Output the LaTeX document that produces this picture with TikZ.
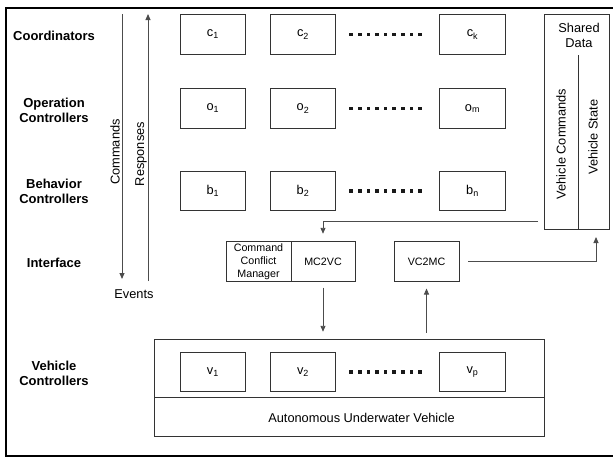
\documentclass[tikz,border=0pt]{standalone}
\usepackage{fontspec}
\setmainfont{Liberation Sans}
\usetikzlibrary{arrows.meta}
\begin{document}
\begin{tikzpicture}[x=1pt,y=-1pt,
  boxcol/.style={draw=black!80,line width=0.9pt},
  comp/.style={boxcol,minimum width=65.7pt,minimum height=39.5pt,inner sep=0pt,font=\fontsize{12.8}{15}\selectfont},
  layer/.style={font=\fontsize{13}{15}\selectfont\bfseries,align=center},
  txt/.style={font=\fontsize{12.8}{15}\selectfont,align=center,inner sep=0pt},
  small/.style={font=\fontsize{10.7}{13}\selectfont,align=center,inner sep=0pt},
  arr/.style={draw=black!70,line width=0.9pt,-{Triangle[length=6pt,width=5pt]}},
  plain/.style={draw=black!70,line width=0.9pt},
  dotsq/.style={fill=black!90}]
\useasboundingbox (0,0) rectangle (613,458);
\draw[line width=2.2pt] (6,8) rectangle (614,456);

% layer labels
\node[layer] (lc) at (54,36) {Coordinators};
\node[layer] (lo) at (54,110) {Operation\\Controllers};
\node[layer] (lb) at (54,191) {Behavior\\Controllers};
\node[layer] (li) at (54,263) {Interface};
\node[layer] (lv) at (54,373) {Vehicle\\Controllers};

% components
\node[comp] (c1) at (212.9,34.5) {c\textsubscript{1}};
\node[comp] (c2) at (303,34.5) {c\textsubscript{2}};
\node[comp] (ck) at (472.5,34.5) {c\textsubscript{k}};
\node[comp] (o1) at (212.9,108.5) {o\textsubscript{1}};
\node[comp] (o2) at (303,108.5) {o\textsubscript{2}};
\node[comp] (om) at (472.5,108.5) {o\textsubscript{m}};
\node[comp] (b1) at (212.9,191) {b\textsubscript{1}};
\node[comp] (b2) at (303,191) {b\textsubscript{2}};
\node[comp] (bn) at (472.5,191) {b\textsubscript{n}};

% AUV box
\node[boxcol,minimum width=390pt,minimum height=97.5pt,inner sep=0pt] (auv) at (349,388) {};
\draw[boxcol] (154,397.7) -- (544,397.7);
\node[txt] (auvl) at (361.5,418) {Autonomous Underwater Vehicle};
\node[comp] (v1) at (212.9,372) {v\textsubscript{1}};
\node[comp] (v2) at (303,372) {v\textsubscript{2}};
\node[comp] (vp) at (472.5,372) {v\textsubscript{p}};

% dots
\foreach \yy in {34.5,108.5,191,372}{
  \foreach \i in {0,...,8}{
    \fill[dotsq] ({351.2+8.6*\i-1.85},{\yy-1.85}) rectangle ++(3.7,3.7);
  }
}

% shared data
\node[boxcol,minimum width=65pt,minimum height=215pt,inner sep=0pt] (shared) at (576.5,121.5) {};
\draw[boxcol] (578.7,55) -- (578.7,229);
\node[txt] (sdl) at (579,35) {Shared\\Data};
\node[txt,rotate=90] (vcmd) at (561,144) {Vehicle Commands};
\node[txt,rotate=90] (vst) at (593,137) {Vehicle State};

% interface
\node[boxcol,minimum width=65pt,minimum height=39.3pt,inner sep=0pt,small] (ccm) at (258.5,261.4) {Command\\Conflict\\Manager};
\node[boxcol,minimum width=64pt,minimum height=39.3pt,inner sep=0pt,small] (mc) at (323,261.4) {MC2VC};
\node[boxcol,minimum width=65pt,minimum height=39.3pt,inner sep=0pt,small] (vc) at (426.5,261.4) {VC2MC};

% connectors
\coordinate (s1) at (538,221);
\coordinate (s2) at (596,237);
\draw[arr,shorten >=7.5pt] (s1) -| (mc.north);
\draw[arr,shorten <=9pt] (vc.east) -| (s2);
\draw[arr,shorten <=6pt,shorten >=7pt] (mc.south) -- (mc.south |- auv.north);
\draw[arr,shorten <=6pt,shorten >=7pt] (vc.south |- auv.north) -- (vc.south);

% commands / responses
\coordinate (cmdtop) at (122,14);
\coordinate (cmdbot) at (122,279);
\coordinate (restop) at (148,14);
\coordinate (resbot) at (148,281);
\draw[arr] (cmdtop) -- (cmdbot);
\draw[arr] (resbot) -- (restop);
\node[txt,rotate=90] (cmdl) at (115,152) {Commands};
\node[txt,rotate=90] (resl) at (141,154) {Responses};
\node[txt] (ev) at (134,294) {Events};
\end{tikzpicture}
\end{document}
